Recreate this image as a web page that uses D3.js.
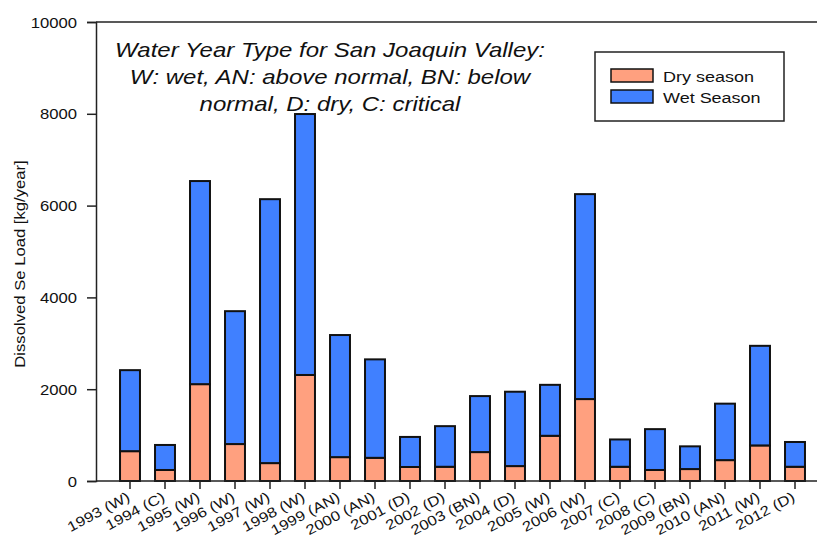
<!DOCTYPE html>
<html>
<head>
<meta charset="utf-8">
<script src="https://cdn.jsdelivr.net/npm/d3@7"></script>
<style>
  html, body { margin: 0; padding: 0; background: #fff; }
  svg { display: block; font-family: "Liberation Sans", Arial, sans-serif; }
</style>
</head>
<body>
<svg id="chart" width="817" height="535"></svg>
<script>
const years = ["1993 (W)", "1994 (C)", "1995 (W)", "1996 (W)", "1997 (W)", "1998 (W)", "1999 (AN)", "2000 (AN)", "2001 (D)", "2002 (D)",
               "2003 (BN)", "2004 (D)", "2005 (W)", "2006 (W)", "2007 (C)", "2008 (C)", "2009 (BN)", "2010 (AN)", "2011 (W)", "2012 (D)"];
const drySeason = [650, 240, 2110, 805, 390, 2310, 520, 505, 305, 310, 630, 325, 985, 1785, 310, 240, 260, 455, 775, 310];
const wetSeason = [1765, 545, 4425, 2895, 5750, 5685, 2660, 2145, 655, 885, 1220, 1620, 1110, 4465, 595, 890, 495, 1230, 2170, 540];
const yTicks = [0, 2000, 4000, 6000, 8000, 10000];
const seriesNames = ["Dry season", "Wet Season"];
const seriesColors = ["#FFA07F", "#4080FF"];
const yTitle = "Dissolved Se Load [kg/year]";
const noteLines = ["Water Year Type for San Joaquin Valley:", "W: wet, AN: above normal, BN: below", "normal, D: dry, C: critical"];

const rows = years.map((yr, i) => ({ year: yr, dry: drySeason[i], wet: wetSeason[i] }));
const stacked = d3.stack().keys(["dry", "wet"])(rows);

const svg = d3.select("#chart");
const mLeft = 96, mTop = 22, mBottom = 481, mRight = 817;
const FONT = "Liberation Sans, Arial, sans-serif";
const STRETCH = 1.19;

const x = d3.scaleBand().domain(years).range([95, 830]).paddingInner(0.43).paddingOuter(0.715);
const y = d3.scaleLinear().domain([0, 10000]).range([mBottom, mTop]);

// bars
const g = svg.append("g");
stacked.forEach((layer, li) => {
  g.selectAll(null).data(layer).enter().append("rect")
    .attr("x", d => x(d.data.year))
    .attr("width", x.bandwidth())
    .attr("y", d => y(d[1]))
    .attr("height", d => y(d[0]) - y(d[1]))
    .attr("fill", seriesColors[li])
    .attr("stroke", "#111")
    .attr("stroke-width", 2);
});

// top frame line
svg.append("line").attr("x1", mLeft).attr("x2", mRight).attr("y1", y(10000)).attr("y2", y(10000))
  .attr("stroke", "#222").attr("stroke-width", 1.5);

// y axis
const yAxis = svg.append("g").attr("transform", `translate(${mLeft},0)`)
  .call(d3.axisLeft(y).tickValues(yTicks).tickSize(9).tickFormat(d3.format("d")));
yAxis.select(".domain").attr("stroke", "#222").attr("stroke-width", 1.5);
yAxis.selectAll(".tick line").attr("stroke", "#222").attr("stroke-width", 1.5);
yAxis.selectAll("text").attr("font-size", 14).attr("fill", "#111").attr("font-family", FONT)
  .attr("x", 0).attr("dy", "0.36em")
  .attr("transform", `translate(-19,0) scale(${STRETCH},1)`);

// x axis
const xAxis = svg.append("g").attr("transform", `translate(0,${mBottom})`)
  .call(d3.axisBottom(x).tickSize(8).tickSizeOuter(0));
xAxis.select(".domain").attr("stroke", "#222").attr("stroke-width", 1.5).attr("d", `M${mLeft},0H${mRight}`);
xAxis.selectAll(".tick line").attr("stroke", "#222").attr("stroke-width", 1.5);
xAxis.selectAll("text")
  .attr("font-size", 14).attr("fill", "#111").attr("font-family", FONT)
  .attr("text-anchor", "end")
  .attr("dy", null)
  .attr("y", 0)
  .attr("transform", `translate(1,19) rotate(-28) scale(${STRETCH},1)`);

// y title
svg.append("text")
  .attr("transform", `translate(25,264) rotate(-90) scale(1.15,1)`)
  .attr("text-anchor", "middle")
  .attr("font-size", 14.5).attr("fill", "#111")
  .text(yTitle);

// note
noteLines.forEach((t, i) => {
  svg.append("text").attr("text-anchor", "middle").attr("font-size", 20)
    .attr("font-style", "italic").attr("fill", "#111")
    .attr("transform", `translate(330,${57 + i * 27}) scale(1.2,1)`)
    .text(t);
});

// legend
const leg = svg.append("g");
leg.append("rect").attr("x", 595).attr("y", 52).attr("width", 189).attr("height", 69)
  .attr("fill", "#fff").attr("stroke", "#222").attr("stroke-width", 1.5);
seriesNames.forEach((n, i) => {
  leg.append("rect").attr("x", 611).attr("y", 69 + i * 21).attr("width", 42).attr("height", 13)
    .attr("fill", seriesColors[i]).attr("stroke", "#111").attr("stroke-width", 1.5);
  leg.append("text").attr("font-size", 15).attr("fill", "#111")
    .attr("transform", `translate(663,${81.5 + i * 21.5}) scale(1.2,1)`).text(n);
});
</script>
</body>
</html>
